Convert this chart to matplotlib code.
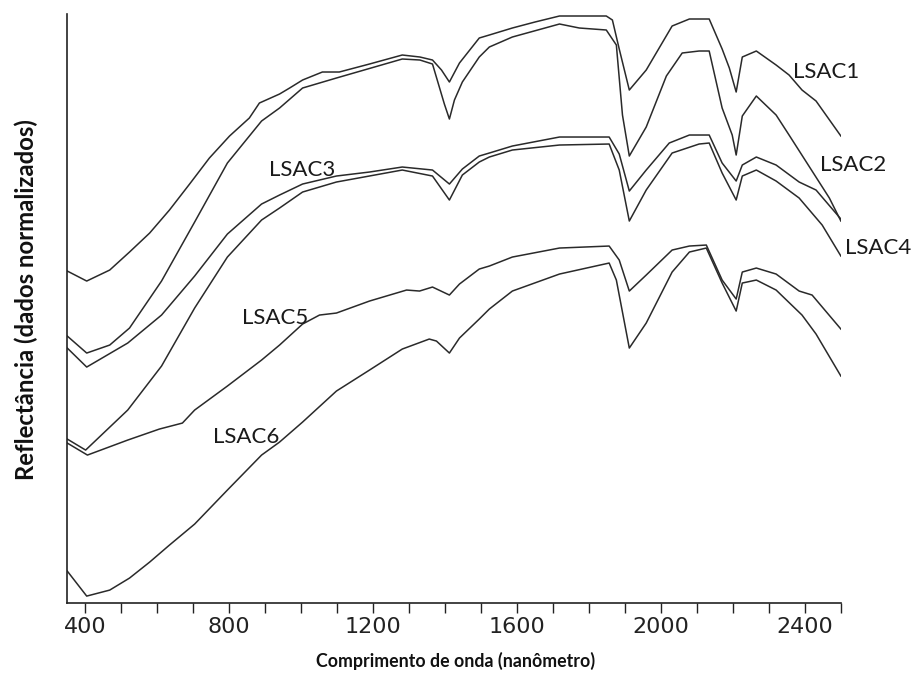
import numpy as np
import matplotlib.pyplot as plt
from matplotlib.ticker import MultipleLocator

# wavelength (nm) / normalized reflectance (arbitrary units)
nm1 = [350, 404, 468, 523, 579, 634, 690, 745, 801, 856, 884, 940, 968, 1004, 1059, 1106, 1190, 1281, 1330,
       1365, 1390, 1412, 1440, 1495, 1523, 1587, 1650, 1718, 1790, 1848, 1865, 1884, 1912, 1959, 2031,
       2079, 2106, 2134, 2170, 2190, 2209, 2226, 2265, 2320, 2356, 2392, 2431, 2500]
r1 = [332, 322, 333, 351, 370, 393, 419, 445, 467, 485, 500, 509, 515, 523, 531, 531, 539, 548, 546,
      543, 533, 521, 540, 565, 568, 575, 581, 587, 587, 587, 583, 554, 513, 533, 577,
      584, 584, 584, 554, 535, 511, 546, 552, 538, 528, 513, 502, 467]

nm2 = [350, 404, 468, 523, 612, 704, 795, 890, 940, 1004, 1098, 1281, 1330, 1365, 1398, 1412, 1426, 1448,
       1495, 1523, 1587, 1718, 1773, 1848, 1876, 1893, 1912, 1959, 2015, 2059, 2106, 2134, 2170, 2198,
       2209, 2226, 2265, 2320, 2356, 2404, 2468, 2500]
r2 = [267, 250, 258, 275, 322, 381, 440, 482, 495, 515, 525, 544, 543, 539, 499, 484, 503, 521,
      546, 556, 566, 579, 575, 573, 558, 488, 447, 476, 527, 550, 552, 552, 495, 468,
      448, 487, 507, 488, 468, 441, 405, 382]

nm3 = [350, 404, 518, 612, 704, 795, 890, 940, 1004, 1098, 1190, 1281, 1365, 1412, 1448, 1495, 1523, 1587,
       1718, 1856, 1884, 1912, 1959, 2023, 2079, 2134, 2170, 2209, 2226, 2265, 2320, 2384, 2431, 2500]
r3 = [255, 236, 260, 288, 327, 369, 399, 408, 419, 427, 431, 436, 433, 419, 434, 447, 450, 457,
      466, 466, 449, 412, 433, 460, 468, 468, 440, 422, 438, 446, 438, 421, 413, 384]

nm4 = [350, 401, 518, 612, 704, 795, 890, 940, 1004, 1098, 1281, 1365, 1412, 1448, 1495, 1523, 1587,
       1718, 1856, 1884, 1912, 1959, 2031, 2106, 2134, 2170, 2209, 2226, 2265, 2320, 2384, 2448, 2500]
r4 = [164, 153, 193, 237, 295, 346, 383, 395, 411, 421, 433, 427, 403, 428, 441, 446, 453,
      458, 459, 433, 382, 413, 450, 459, 460, 430, 403, 427, 433, 422, 405, 378, 347]

nm5 = [350, 406, 518, 606, 670, 704, 795, 890, 940, 1004, 1051, 1098, 1190, 1293, 1329, 1365, 1412, 1440,
       1495, 1523, 1587, 1718, 1856, 1884, 1912, 1959, 2031, 2079, 2126, 2170, 2209, 2226, 2265, 2320,
       2384, 2420, 2500]
r5 = [160, 148, 163, 174, 180, 193, 217, 243, 258, 279, 288, 290, 302, 313, 312, 316, 308, 319,
      334, 337, 346, 355, 357, 343, 312, 328, 353, 357, 358, 323, 304, 331, 335, 329,
      312, 308, 274]

nm6 = [350, 404, 468, 523, 579, 634, 704, 795, 890, 940, 1004, 1098, 1190, 1281, 1356, 1376, 1412, 1440,
       1495, 1523, 1587, 1718, 1856, 1876, 1912, 1959, 2031, 2079, 2126, 2170, 2209, 2226, 2265, 2320,
       2392, 2431, 2500]
r6 = [32, 7, 13, 25, 41, 58, 79, 113, 148, 161, 181, 212, 233, 254, 264, 262, 250, 265,
      284, 294, 312, 329, 340, 323, 255, 280, 331, 351, 355, 320, 292, 320, 323, 313,
      288, 269, 227]

names = ["LSAC1", "LSAC2", "LSAC3", "LSAC4", "LSAC5", "LSAC6"]
label_x = [2368, 2443, 912, 2512, 836, 756]
label_y = [531, 438, 433, 355, 285, 166]

series = [(nm1, r1), (nm2, r2), (nm3, r3), (nm4, r4), (nm5, r5), (nm6, r6)]

fig = plt.figure(figsize=(9.14, 6.83), dpi=100)
ax = fig.add_axes([0.0736, 0.117, 0.8464, 0.8625])

for x, y in series:
    ax.plot(x, y, color="#2a2a2a", lw=1.1)

for name, lx, ly in zip(names, label_x, label_y):
    ax.text(lx, ly, name, fontsize=16, family=["Lato", "DejaVu Sans"],
            color="#1a1a1a", va="center", ha="left", clip_on=False)

ax.set_xlim(350, 2500)
ax.set_ylim(0, 589)
ax.xaxis.set_major_locator(MultipleLocator(400))
ax.xaxis.set_minor_locator(MultipleLocator(100))
ax.set_yticks([])
ax.tick_params(axis="x", which="both", direction="out", length=7, width=1, color="#222222")
ax.tick_params(axis="x", which="major", labelsize=16, pad=3)
for lab in ax.get_xticklabels():
    lab.set_family(["Liberation Sans Narrow", "DejaVu Sans"])
    lab.set_color("#222222")

for s in ["top", "right"]:
    ax.spines[s].set_visible(False)
for s in ["left", "bottom"]:
    ax.spines[s].set_linewidth(1.2)
    ax.spines[s].set_color("#222222")

fig.text(0.498, 0.032, "Comprimento de onda (nanômetro)", ha="center", va="center",
         fontsize=12.8, fontweight="bold", family=["Lato", "DejaVu Sans"], color="#111111")
fig.text(0.029, 0.562, "Reflectância (dados normalizados)", ha="center", va="center", rotation=90,
         fontsize=17.2, fontweight="bold", family=["Lato", "DejaVu Sans"], color="#111111")

fig.savefig("out.png", dpi=100)
